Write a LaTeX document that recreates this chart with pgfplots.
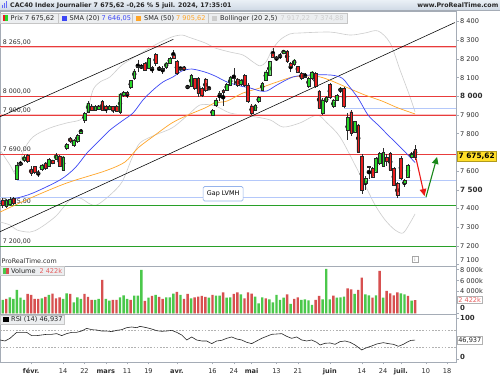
\documentclass[border=0pt]{standalone}
\usepackage{pgfplots}
\pgfplotsset{compat=1.18}
\usepackage{pgfplotstable}
\usepackage{fontspec}
\setmainfont{DejaVu Sans}
\usetikzlibrary{arrows.meta}

\definecolor{upfill}{RGB}{40,215,40}
\definecolor{dnfill}{RGB}{235,30,30}
\definecolor{bodyedge}{RGB}{40,40,40}
\definecolor{wickc}{RGB}{45,45,45}
\definecolor{smablue}{RGB}{60,70,245}
\definecolor{smaorange}{RGB}{255,165,40}
\definecolor{bbgray}{RGB}{205,205,205}
\definecolor{hred}{RGB}{232,60,60}
\definecolor{hpink}{RGB}{250,195,195}
\definecolor{hgreen}{RGB}{40,160,40}
\definecolor{hblue}{RGB}{180,200,250}
\definecolor{framegray}{RGB}{165,172,182}
\definecolor{txtgray}{RGB}{45,45,45}
\definecolor{volgreen}{RGB}{75,200,75}
\definecolor{volred}{RGB}{215,80,80}
\definecolor{legbg}{RGB}{236,238,240}
\definecolor{titlebg1}{RGB}{234,240,246}
\definecolor{titlebg2}{RGB}{206,216,228}
\definecolor{pricebox}{RGB}{255,222,40}
\definecolor{salmon}{RGB}{230,95,95}
\definecolor{gapblue}{RGB}{150,180,235}
\definecolor{arrred}{RGB}{235,25,25}
\definecolor{arrgreen}{RGB}{25,135,25}

\newcommand\fs[1]{\fontsize{#1}{#1}\selectfont}

% candles: index, open, high, low, close, up(1)/down(0)
\pgfplotstableread{
i o h l c u
0 7446 7455 7401 7419 0
1 7410 7452 7403 7446 1
2 7424 7460 7415 7449 1
3 7455 7462 7420 7428 0
4 7556 7650 7551 7633 1
5 7636 7652 7628 7640 1
6 7656 7684 7650 7677 1
7 7686 7690 7645 7651 0
8 7610 7625 7575 7590 0
9 7624 7630 7585 7592 0
10 7593 7605 7570 7590 0
11 7610 7640 7600 7633 1
12 7642 7648 7608 7615 0
13 7628 7672 7620 7663 1
14 7656 7662 7636 7642 0
15 7663 7695 7658 7685 1
16 7681 7688 7620 7624 0
17 7606 7683 7600 7677 1
18 7722 7750 7715 7743 1
19 7775 7785 7750 7758 0
20 7740 7772 7730 7767 1
21 7758 7800 7752 7793 1
22 7805 7825 7800 7815 1
23 7870 7915 7860 7909 1
24 7918 7975 7910 7963 1
25 7948 7958 7920 7927 0
26 7927 7952 7920 7945 1
27 7931 7955 7925 7948 1
28 7972 7978 7920 7927 0
29 7948 7955 7910 7931 0
30 7931 7952 7925 7948 1
31 7945 7950 7910 7927 0
32 7948 7955 7915 7922 0
33 7918 8018 7905 8013 1
34 8005 8028 7998 8020 1
35 8022 8030 7990 8012 0
36 8047 8090 8040 8084 1
37 8097 8148 8090 8136 1
38 8155 8195 8132 8160 1
39 8160 8172 8145 8157 0
40 8177 8182 8135 8141 0
41 8150 8210 8145 8204 1
42 8155 8165 8125 8153 0
43 8225 8230 8160 8177 0
44 8152 8160 8135 8150 0
45 8148 8160 8120 8151 1
46 8154 8186 8148 8180 1
47 8177 8210 8172 8204 1
48 8221 8250 8200 8204 0
49 8189 8195 8115 8123 0
50 8148 8158 8140 8150 1
51 8154 8160 8138 8145 0
52 8050 8060 8040 8052 1
53 8052 8120 8048 8114 1
54 8097 8100 8035 8043 0
55 8097 8105 7995 8016 0
56 8043 8050 7995 8007 0
57 8093 8100 8025 8034 0
58 8045 8052 8035 8040 0
59 7900 7935 7895 7927 1
60 7954 7990 7945 7981 1
61 8012 8030 7975 8018 1
62 8034 8040 7950 8025 0
63 8034 8072 8028 8064 1
64 8061 8108 8055 8100 1
65 8097 8150 8060 8095 0
66 8093 8100 8050 8061 0
67 8064 8095 8058 8088 1
68 8114 8120 8050 8061 0
69 8061 8070 7965 7972 0
70 7950 7958 7900 7909 0
71 7927 7960 7920 7954 1
72 7972 8000 7965 7993 1
73 8034 8076 8028 8070 1
74 8088 8140 8082 8132 1
75 8114 8190 8108 8186 1
76 8230 8257 8205 8212 0
77 8207 8215 8190 8205 0
78 8216 8230 8200 8218 1
79 8230 8250 8225 8243 1
80 8243 8248 8180 8186 0
81 8177 8182 8132 8159 0
82 8171 8200 8165 8195 1
83 8159 8165 8128 8132 0
84 8123 8128 8090 8097 0
85 8108 8125 8098 8105 0
86 8052 8105 8045 8097 1
87 8097 8138 8090 8132 1
88 8123 8128 8045 8052 0
89 8029 8035 7930 7936 0
90 7909 7990 7900 7981 1
91 7972 8000 7965 7993 1
92 8064 8070 7985 7993 0
93 7945 7985 7936 7981 1
94 7981 8012 7975 8007 1
95 8035 8050 8020 8040 1
96 8043 8050 7936 7945 0
97 7820 7910 7765 7888 1
98 7918 7925 7790 7802 0
99 7811 7870 7805 7865 1
100 7847 7852 7700 7704 0
101 7681 7690 7480 7499 0
102 7535 7575 7500 7561 1
103 7625 7630 7560 7620 0
104 7615 7620 7565 7570 0
105 7597 7675 7590 7668 1
106 7642 7700 7635 7695 1
107 7627 7722 7620 7699 1
108 7672 7690 7630 7651 0
109 7695 7700 7600 7606 0
110 7615 7620 7520 7526 0
111 7535 7540 7455 7472 0
112 7668 7680 7555 7563 0
113 7535 7560 7515 7552 1
114 7570 7640 7565 7633 1
115 7674 7700 7670 7692 1
116 7717 7740 7660 7676 0
}\candles

% volume in thousands
\pgfplotstableread{
i v u
0 2446 1
1 2630 0
2 2936 1
3 2630 1
4 4281 1
5 2875 1
6 2446 1
7 3547 0
8 3364 0
9 2630 0
10 2630 0
11 2752 1
12 2997 0
13 3364 1
14 3608 0
15 2752 0
16 2936 0
17 2630 1
18 3670 1
19 3547 0
20 2018 1
21 2936 1
22 2630 1
23 3547 0
24 2997 0
25 2446 0
26 2446 1
27 2630 1
28 6116 0
29 2630 1
30 2324 1
31 2446 0
32 2446 0
33 2936 1
34 3303 1
35 2630 1
36 2446 0
37 3241 1
38 3241 1
39 7951 1
40 2263 0
41 2875 1
42 3180 0
43 3364 1
44 2997 0
45 2630 0
46 2936 1
47 2936 1
48 3608 1
49 3914 0
50 3364 1
51 2630 0
52 3547 0
53 2752 1
54 2936 0
55 3058 0
56 3180 0
57 2997 0
58 2875 1
59 3364 0
60 3241 1
61 3241 1
62 3853 0
63 2875 1
64 2936 1
65 3547 0
66 3853 0
67 3486 1
68 2752 0
69 3853 0
70 3608 0
71 3058 1
72 1835 1
73 2936 1
74 2752 0
75 2569 1
76 2018 1
77 3364 1
78 2446 1
79 2875 1
80 3486 0
81 1712 1
82 2630 0
83 2936 0
84 2446 1
85 2569 1
86 2385 1
87 1529 1
88 2446 0
89 3180 0
90 2569 1
91 8134 1
92 2569 1
93 3241 0
94 2875 1
95 2936 1
96 3058 1
97 4587 0
98 4404 0
99 3547 1
100 4281 0
101 6544 0
102 3486 1
103 3303 1
104 2875 0
105 3303 1
106 7767 0
107 2875 1
108 4098 0
109 3670 0
110 3303 0
111 3853 0
112 3670 1
113 3486 1
114 3180 0
115 2324 1
116 2422 0
}\vol

\begin{document}
\begin{tikzpicture}[x=1bp,y=1bp]
\useasboundingbox (0bp,0bp) rectangle (500bp,375bp);
\fill[white] (0bp,0bp) rectangle (500bp,375bp);

% ================= MAIN PRICE PANEL =================
\begin{axis}[
  at={(0bp,109bp)}, anchor=south west,
  width=456bp, height=254.5bp, scale only axis,
  xmin=-0.76, xmax=127.5, ymin=7092.5, ymax=8454,
  clip mode=individual,
  axis line style={framegray, line width=0.6bp},
  xtick=\empty,
  ytick={7200,7300,...,8400},
  yticklabels={7 200,7 300,7 400,\textbf{\fs{7.2}7 500},7 600,{},7 800,7 900,\textbf{\fs{7.2}8 000},8 100,8 200,8 300,8 400},
  extra y ticks={7100}, extra y tick labels={7 100},
  extra y tick style={yticklabel style={yshift=4bp}},
  yticklabel pos=right,
  tick align=outside, major tick length=2.5bp,
  ytick style={framegray, line width=0.5bp},
  yticklabel style={anchor=west, inner sep=0pt, xshift=1.5bp, font=\fs{6.6}, text=txtgray},
]
% Bollinger bands
\addplot[bbgray, line width=0.6bp, smooth, tension=0.5] coordinates {
(-0.76,7713) (2.05,7633) (4.02,7579) (5.71,7702) (8.52,7783) (13.3,7831) (18.09,7858) (21.74,7874) (23.71,7916) (25.4,8034) (27.37,8077) (30.18,8104) (33.56,8168) (38.06,8221) (42.84,8275) (47.62,8318) (50.44,8328) (52.12,8318) (56.91,8286) (59.72,8259) (63.94,8237) (67.59,8221) (70.41,8184) (72.38,8163) (74.07,8184) (75.75,8248) (78.0,8302) (80.81,8334) (83.63,8339) (92.07,8344) (97.69,8328) (101.91,8339) (105.57,8350) (108.95,8286) (111.76,8141) (114.57,7997) (115.98,7917)};
\addplot[bbgray, line width=0.6bp, smooth, tension=0.5] coordinates {
(-0.76,7328) (2.05,7312) (4.02,7285) (7.68,7274) (10.49,7296) (14.99,7360) (18.93,7446) (21.74,7456) (24.56,7424) (26.53,7419) (30.18,7472) (33.56,7542) (36.37,7670) (38.62,7751) (42.84,7793) (47.62,7831) (52.12,7900) (55.5,7954) (59.72,7949) (63.94,7911) (69.56,7895) (75.19,7874) (78.85,7836) (83.63,7858) (88.41,7900) (91.22,7858) (94.88,7783) (99.1,7633) (101.91,7526) (104.73,7419) (107.54,7339) (110.35,7285) (112.6,7269) (114.57,7323) (115.98,7371)};

% horizontal levels
\addplot[hpink, line width=1.4bp] coordinates {(-0.76,8261) (127.5,8261)};
\addplot[hred, line width=0.7bp] coordinates {(-0.76,8265) (127.5,8265)};
\addplot[hred, line width=0.7bp] coordinates {(-0.76,8000) (127.5,8000)};
\addplot[hpink, line width=2.6bp] coordinates {(-0.76,7900) (127.5,7900)};
\addplot[hred, line width=0.7bp] coordinates {(-0.76,7900) (127.5,7900)};
\addplot[hred, line width=0.7bp] coordinates {(-0.76,7690) (127.5,7690)};
\addplot[hgreen, line width=0.7bp] coordinates {(-0.76,7415) (127.5,7415)};
\addplot[hgreen, line width=0.7bp] coordinates {(-0.76,7200) (127.5,7200)};
\addplot[hblue, line width=0.7bp] coordinates {(96,7936) (127.5,7936)};
\addplot[hblue, line width=0.7bp] coordinates {(4,7551) (127.5,7551)};
\addplot[hblue, line width=0.7bp] coordinates {(-0.76,7462) (119.4,7462)};

% level labels
\begin{scope}[every node/.style={anchor=south west, inner sep=0pt, font=\fs{6.3}, text=txtgray}]
\node at (axis cs:0,8272) {8 265,00};
\node at (axis cs:0,8008) {8 000,00};
\node at (axis cs:0,7908) {7 900,00};
\node at (axis cs:0,7698) {7 690,00};
\node at (axis cs:0,7423) {7 415,00};
\node at (axis cs:0,7208) {7 200,00};
\end{scope}

% trend channel
\addplot[black, line width=0.55bp] coordinates {(-0.76,7891) (47.99,8305)};
\addplot[black, line width=0.55bp] coordinates {(-0.76,7276) (127.2,8395)};

% moving averages
\addplot[smaorange, line width=0.7bp, smooth, tension=0.5] coordinates {
(-0.76,7381) (8.52,7462) (18.09,7537) (28.78,7601) (34.4,7649) (38.06,7724) (42.84,7793) (47.62,7858) (52.12,7900) (56.91,7938) (59.72,7965) (63.09,7975) (67.59,8018) (72.38,8045) (77.16,8077) (81.66,8104) (86.44,8109) (89.26,8104) (92.63,8082) (97.13,8045) (101.91,8007) (106.69,7975) (111.2,7938) (115.98,7906)};
\addplot[smablue, line width=0.7bp, smooth, tension=0.5] coordinates {
(-0.76,7437) (4.02,7456) (8.52,7483) (16.12,7553) (20.34,7617) (23.71,7697) (27.37,7767) (30.18,7820) (33.56,7868) (36.65,7911) (39.47,7981) (42.28,8034) (45.09,8077) (47.9,8104) (50.44,8136) (53.25,8146) (56.91,8130) (59.72,8109) (63.09,8077) (66.75,8056) (69.56,8045) (72.38,8029) (74.35,8029) (77.16,8061) (81.66,8104) (86.44,8114) (92.35,8114) (95.44,8098) (97.13,8061) (99.94,7991) (102.76,7900) (105.57,7847) (108.38,7793) (111.2,7740) (114.01,7686) (115.98,7646)};

% candle wicks (high-low)
\addplot[only marks, mark=none,
  error bars/.cd, y dir=both, y explicit, error mark=none,
  error bar style={line width=0.5bp, draw=wickc}]
  table[x=i, y expr={(\thisrow{h}+\thisrow{l})/2}, y error expr={(\thisrow{h}-\thisrow{l})/2}] {\candles};

% arrows
\addplot[arrred, line width=1.1bp, -{Triangle[width=6.5bp,length=7bp]}] coordinates {(116.1,7681) (118.65,7467)};
\addplot[arrgreen, line width=1.1bp, -{Triangle[width=6.5bp,length=7bp]}] coordinates {(119.07,7462) (122.17,7676)};

% gap label
\node[draw=gapblue, fill=white, rounded corners=1.5bp, line width=0.6bp, font=\fs{6.4},
  minimum width=40bp, minimum height=14.5bp, inner sep=0.5bp] at (axis cs:62,7479) {Gap LVMH};
\end{axis}

% ===== candle bodies: stacked bars on an overlay axis with the same frame =====
\begin{axis}[
  at={(0bp,109bp)}, anchor=south west,
  width=456bp, height=254.5bp, scale only axis,
  xmin=-0.76, xmax=127.5, ymin=7092.5, ymax=8454,
  hide axis, ybar stacked, bar width=2.7bp,
]
\addplot[draw=none, fill=none] table[x=i, y expr={min(\thisrow{o},\thisrow{c})}] {\candles};
\addplot[fill=upfill, draw=bodyedge, line width=0.35bp]
  table[x=i, y expr={\thisrow{u}*max(abs(\thisrow{c}-\thisrow{o}),2)}] {\candles};
\addplot[fill=dnfill, draw=bodyedge, line width=0.35bp]
  table[x=i, y expr={(1-\thisrow{u})*max(abs(\thisrow{c}-\thisrow{o}),2)}] {\candles};
\end{axis}

% ================= VOLUME PANEL =================
\begin{axis}[
  at={(0bp,61bp)}, anchor=south west,
  width=456bp, height=48bp, scale only axis,
  xmin=-0.76, xmax=127.5, ymin=-128, ymax=8679,
  axis line style={framegray, line width=0.6bp},
  xtick=\empty,
  ytick={4000,6000,8000}, yticklabels={4 000k,6 000k,8 000k},
  extra y ticks={0}, extra y tick labels={\textbf{\fs{7}0}},
  extra y tick style={yticklabel style={yshift=5bp}},
  yticklabel pos=right,
  tick align=outside, major tick length=2.5bp,
  ytick style={framegray, line width=0.5bp},
  yticklabel style={anchor=west, inner sep=0pt, xshift=1.5bp, font=\fs{6.6}, text=txtgray},
]
\addplot[ybar, bar width=2.4bp, bar shift=0pt, fill=volgreen, draw=none]
  table[x=i, y expr={\thisrow{v}*\thisrow{u}}] {\vol};
\addplot[ybar, bar width=2.4bp, bar shift=0pt, fill=volred, draw=none]
  table[x=i, y expr={\thisrow{v}*(1-\thisrow{u})}] {\vol};
\end{axis}

% ================= RSI PANEL =================
\begin{axis}[
  at={(0bp,13bp)}, anchor=south west,
  width=456bp, height=48bp, scale only axis,
  xmin=-0.76, xmax=127.5, ymin=-6.9, ymax=110.9,
  axis line style={framegray, line width=0.6bp},
  ytick={100}, yticklabels={\textbf{\fs{7}100}},
  extra y ticks={0}, extra y tick labels={\textbf{\fs{7}0}},
  extra y tick style={yticklabel style={yshift=2.5bp}},
  yticklabel pos=right,
  ytick style={framegray, line width=0.5bp},
  yticklabel style={anchor=west, inner sep=0pt, xshift=1.5bp, font=\fs{6.6}, text=txtgray},
  xtick={8,17,23,29,35,41,49,59,65,70,77,83,92,101,107,112,119,125},
  xticklabels={\textbf{févr.},14,22,\textbf{mars},11,19,\textbf{avr.},16,24,\textbf{mai},13,21,\textbf{juin},14,24,\textbf{juil.},10,18},
  xtick pos=bottom,
  xtick style={framegray, line width=0.5bp},
  tick align=outside, major tick length=2.5bp,
  xticklabel style={anchor=base, inner sep=0pt, yshift=-8.9bp, font=\fs{6.6}, text=txtgray},
]
\addplot[gray!60, line width=0.5bp, dash pattern=on 1.6bp off 1.6bp] coordinates {(-0.76,70) (127.5,70)};
\addplot[gray!60, line width=0.5bp, dash pattern=on 1.6bp off 1.6bp] coordinates {(-0.76,30) (127.5,30)};
\addplot[black!85, line width=0.6bp] coordinates {
(-0.7,47.1) (0.65,44.7) (2.05,51.2) (3.93,65.9) (5.34,65.9) (6.74,65.9) (8.15,57.8) (9.55,57.8) (10.96,59.4) (12.37,61.0) (13.77,61.0) (15.18,62.7) (16.59,57.8) (17.99,62.7) (19.40,65.9) (20.81,65.9) (22.21,69.2) (23.62,75.7) (25.03,72.4) (26.43,71.6) (27.84,69.2) (29.25,69.2) (30.65,67.6) (32.06,70.8) (33.47,72.4) (34.87,77.3) (36.28,79.0) (37.69,77.3) (38.62,80.6) (40.50,77.3) (41.90,74.1) (43.31,70.0) (44.72,68.4) (46.12,69.2) (47.53,70.8) (48.94,65.9) (50.34,59.4) (51.75,47.1) (53.16,54.5) (54.56,47.1) (55.97,44.7) (57.37,44.7) (58.78,38.2) (60.19,44.7) (61.59,46.3) (63.00,51.2) (64.41,54.5) (65.81,49.6) (67.22,47.1) (68.63,41.4) (70.03,38.2) (71.44,44.7) (72.85,51.2) (74.25,56.1) (75.66,61.0) (77.07,61.8) (78.47,62.7) (79.88,56.1) (81.29,51.2) (82.69,54.5) (84.10,47.1) (85.51,44.7) (86.91,47.1) (88.32,41.4) (89.26,34.9) (90.66,39.0) (92.07,39.8) (93.48,36.5) (94.88,43.1) (96.29,44.7) (97.70,41.4) (99.10,34.9) (100.98,22.7) (102.39,28.4) (103.79,32.4) (105.20,37.3) (107.08,40.6) (108.48,38.2) (109.89,36.5) (111.30,31.6) (112.70,36.5) (113.64,41.4) (114.77,46.0) (115.99,46.9)};
\end{axis}

% ================= OVERLAYS =================
% title bar
\shade[top color=titlebg1, bottom color=titlebg2] (0bp,364.3bp) rectangle (500bp,375bp);
\draw[framegray, line width=0.5bp] (0bp,364.3bp) -- (500bp,364.3bp);
\fill[smablue!80] (2bp,366.5bp) rectangle (3bp,370bp);
\fill[smablue!80] (4bp,366.5bp) rectangle (5bp,372bp);
\fill[smablue!80] (6bp,366.5bp) rectangle (7bp,373.5bp);
\node[anchor=west, inner sep=0pt, font=\bfseries\fs{6.3}, text=black!85] at (10bp,369.6bp)
  {CAC40 Index Journalier 7 675,62 -0,26 \% 5 juil. 2024, 17:35:01};
\node[anchor=east, inner sep=0pt, font=\bfseries\fs{6.3}, text=black!85] at (498.5bp,369.6bp) {www.ProRealTime.com};

% legend row
\fill[legbg] (0bp,351.7bp) rectangle (347bp,361.7bp);
\draw[gray!45, line width=0.4bp] (0bp,351.7bp) rectangle (347bp,361.7bp);
\fill[dnfill] (2.5bp,353.7bp) rectangle (5bp,359.7bp);
\fill[upfill] (5bp,353.7bp) rectangle (7.5bp,359.7bp);
\begin{scope}[every node/.style={anchor=west, inner sep=0pt, font=\fs{6.6}, text=black!85}]
\node at (10.5bp,356.7bp) {Prix 7 675,62};
\node at (69.5bp,356.7bp) {SMA (20)};
\node[text=smablue] at (101.5bp,356.7bp) {7 646,05};
\node at (144bp,356.7bp) {SMA (50)};
\node[text=smaorange] at (176bp,356.7bp) {7 905,62};
\node at (220bp,356.7bp) {Bollinger (20 2,5)};
\node[text=bbgray] at (280.5bp,356.7bp) {7 917,22};
\node[text=bbgray] at (314bp,356.7bp) {7 374,88};
\end{scope}
\draw[gray!45, line width=0.4bp] (58.5bp,351.7bp) -- (58.5bp,361.7bp);
\draw[gray!45, line width=0.4bp] (132.5bp,351.7bp) -- (132.5bp,361.7bp);
\draw[gray!45, line width=0.4bp] (208.5bp,351.7bp) -- (208.5bp,361.7bp);
\fill[smablue] (61.7bp,354bp) rectangle (66.7bp,359bp);
\fill[smaorange] (136bp,354bp) rectangle (141bp,359bp);
\fill[bbgray] (211.7bp,354bp) rectangle (216.7bp,359bp);

% watermark and info icon
\node[anchor=west, inner sep=0pt, font=\fs{6.4}, text=txtgray] at (1.5bp,114bp) {ProRealTime.com};
\draw[gray!70, line width=0.4bp] (412.3bp,113bp) rectangle (417.8bp,118.5bp);
\node[inner sep=0pt, font=\fs{4.5}, text=gray] at (415bp,115.7bp) {i};

% price box
\node[anchor=west, fill=pricebox, draw=pricebox!70!black, line width=0.4bp, font=\bfseries\fs{7.4},
  inner xsep=1.6bp, inner ysep=1.6bp, text=black] at (456.8bp,218.8bp) {7 675,62};

% volume legend + box
\fill[legbg] (0bp,99.3bp) rectangle (64bp,108.3bp);
\draw[gray!45, line width=0.4bp] (0bp,99.3bp) rectangle (64bp,108.3bp);
\fill[volgreen] (3.3bp,101.3bp) rectangle (6.1bp,106.5bp);
\fill[volred] (6.1bp,101.3bp) rectangle (9bp,106.5bp);
\node[anchor=west, inner sep=0pt, font=\fs{6.6}, text=black!85] at (11bp,103.8bp) {Volume};
\node[anchor=west, inner sep=0pt, font=\fs{6.6}, text=salmon] at (39.3bp,103.8bp) {2 422k};
\node[anchor=west, fill=white, draw=gray!60, line width=0.4bp, font=\fs{6.6}, text=salmon,
  inner xsep=1.3bp, inner ysep=1.3bp] at (456.8bp,75.2bp) {2 422k};

% RSI legend + box
\fill[legbg] (0bp,51bp) rectangle (64bp,60bp);
\draw[gray!45, line width=0.4bp] (0bp,51bp) rectangle (64bp,60bp);
\fill[black] (3.3bp,53bp) rectangle (9bp,58.2bp);
\node[anchor=west, inner sep=0pt, font=\fs{6.6}, text=black!85] at (11bp,55.5bp) {RSI (14) 46,937};
\node[anchor=west, fill=white, draw=gray!60, line width=0.4bp, font=\fs{6.6}, text=black!85,
  inner xsep=1.3bp, inner ysep=1.3bp] at (456.8bp,34.5bp) {46,937};
\end{tikzpicture}
\end{document}
